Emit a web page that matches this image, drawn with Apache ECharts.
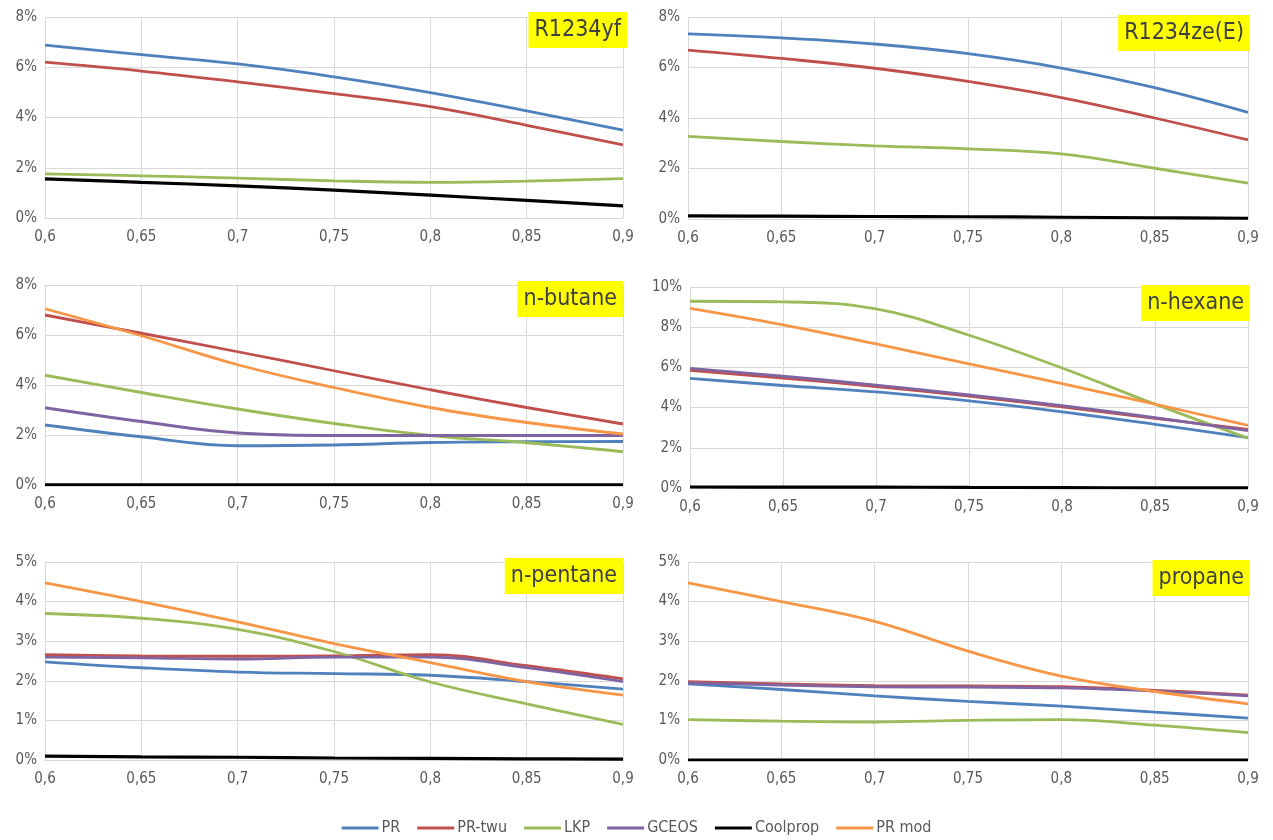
<!DOCTYPE html>
<html>
<head>
<meta charset="utf-8">
<title>Deviation vs reduced temperature</title>
<script src="https://cdn.jsdelivr.net/npm/echarts@6/dist/echarts.min.js"></script>
<style>
  html, body { margin: 0; padding: 0; background: #ffffff; }
  #chart { width: 1273px; height: 840px; }
</style>
</head>
<body>
<div id="chart"></div>
<script>
// Reduced temperature (x) shared by every panel
const xValues = [0.6, 0.65, 0.7, 0.75, 0.8, 0.85, 0.9];

// Model names, in legend order
const modelNames = ['PR', 'PR-twu', 'LKP', 'GCEOS', 'Coolprop', 'PR mod'];

// R1234yf deviations, %
const yfPR       = [6.88, 6.50, 6.13, 5.62, 4.99, 4.26, 3.50];
const yfPRtwu    = [6.20, 5.85, 5.42, 4.95, 4.43, 3.69, 2.91];
const yfLKP      = [1.76, 1.68, 1.59, 1.48, 1.42, 1.47, 1.57];
const yfCoolprop = [1.56, 1.42, 1.28, 1.11, 0.91, 0.70, 0.48];

// R1234ze(E) deviations, %
const zePR       = [7.33, 7.17, 6.93, 6.55, 5.98, 5.20, 4.22];
const zePRtwu    = [6.69, 6.36, 5.97, 5.45, 4.81, 4.00, 3.13];
const zeLKP      = [3.27, 3.07, 2.90, 2.78, 2.58, 2.01, 1.42];
const zeCoolprop = [0.12, 0.11, 0.10, 0.09, 0.07, 0.05, 0.03];

// n-butane deviations, %
const buPR       = [2.40, 1.93, 1.57, 1.60, 1.70, 1.73, 1.74];
const buPRtwu    = [6.80, 6.07, 5.33, 4.57, 3.81, 3.10, 2.44];
const buLKP      = [4.39, 3.70, 3.04, 2.46, 1.98, 1.69, 1.33];
const buGCEOS    = [3.09, 2.54, 2.08, 1.98, 1.98, 1.98, 1.98];
const buCoolprop = [0.01, 0.01, 0.01, 0.01, 0.01, 0.01, 0.01];
const buPRmod    = [7.05, 5.97, 4.81, 3.90, 3.10, 2.50, 2.04];

// n-hexane deviations, %
const hxPR       = [5.45, 5.10, 4.78, 4.33, 3.79, 3.17, 2.51];
const hxPRtwu    = [5.85, 5.47, 5.05, 4.57, 4.04, 3.47, 2.92];
const hxLKP      = [9.29, 9.26, 8.91, 7.60, 5.97, 4.17, 2.48];
const hxGCEOS    = [5.95, 5.56, 5.12, 4.63, 4.10, 3.50, 2.86];
const hxCoolprop = [0.05, 0.04, 0.04, 0.03, 0.02, 0.01, 0.01];
const hxPRmod    = [8.94, 8.12, 7.17, 6.18, 5.19, 4.17, 3.12];

// n-pentane deviations, %
const pePR       = [2.48, 2.33, 2.22, 2.18, 2.14, 1.98, 1.79];
const pePRtwu    = [2.66, 2.63, 2.62, 2.63, 2.66, 2.38, 2.05];
const peLKP      = [3.70, 3.58, 3.30, 2.74, 1.97, 1.42, 0.90];
const peGCEOS    = [2.60, 2.58, 2.55, 2.60, 2.60, 2.33, 1.98];
const peCoolprop = [0.10, 0.08, 0.07, 0.05, 0.04, 0.03, 0.02];
const pePRmod    = [4.47, 4.00, 3.49, 2.94, 2.46, 1.98, 1.64];

// propane deviations, %
const prPR       = [1.92, 1.78, 1.62, 1.48, 1.36, 1.21, 1.06];
const prPRtwu    = [1.98, 1.92, 1.88, 1.87, 1.85, 1.76, 1.64];
const prLKP      = [1.02, 0.98, 0.96, 1.00, 1.02, 0.88, 0.69];
const prGCEOS    = [1.95, 1.89, 1.85, 1.84, 1.82, 1.74, 1.62];
const prCoolprop = [0.00, 0.00, 0.00, 0.00, 0.00, 0.00, 0.00];
const prPRmod    = [4.47, 4.00, 3.50, 2.75, 2.12, 1.73, 1.42];

// Panel titles and y-axis ranges, %
const panelTitles = ['R1234yf', 'R1234ze(E)', 'n-butane', 'n-hexane', 'n-pentane', 'propane'];
const panelYMax   = [8, 8, 8, 10, 5, 5];
const panelYStep  = [2, 2, 2, 2, 1, 1];

// Series per panel, keyed by model name
const panelSeries = [
  { 'PR': yfPR, 'PR-twu': yfPRtwu, 'LKP': yfLKP, 'Coolprop': yfCoolprop },
  { 'PR': zePR, 'PR-twu': zePRtwu, 'LKP': zeLKP, 'Coolprop': zeCoolprop },
  { 'PR': buPR, 'PR-twu': buPRtwu, 'LKP': buLKP, 'GCEOS': buGCEOS, 'Coolprop': buCoolprop, 'PR mod': buPRmod },
  { 'PR': hxPR, 'PR-twu': hxPRtwu, 'LKP': hxLKP, 'GCEOS': hxGCEOS, 'Coolprop': hxCoolprop, 'PR mod': hxPRmod },
  { 'PR': pePR, 'PR-twu': pePRtwu, 'LKP': peLKP, 'GCEOS': peGCEOS, 'Coolprop': peCoolprop, 'PR mod': pePRmod },
  { 'PR': prPR, 'PR-twu': prPRtwu, 'LKP': prLKP, 'GCEOS': prGCEOS, 'Coolprop': prCoolprop, 'PR mod': prPRmod }
];

const modelColors = {
  'PR': '#4F81BD',
  'PR-twu': '#C0504D',
  'LKP': '#9BBB59',
  'GCEOS': '#8064A2',
  'Coolprop': '#000000',
  'PR mod': '#F79646'
};

// Plot areas, px
const grids = [
  { left: 45,  top: 17,  width: 578, height: 201 },
  { left: 688, top: 17,  width: 560, height: 202 },
  { left: 45,  top: 285, width: 578, height: 200 },
  { left: 690, top: 287, width: 558, height: 201 },
  { left: 45,  top: 562, width: 578, height: 198 },
  { left: 688, top: 562, width: 560, height: 198 }
];
const titleBoxes = [
  { right: 646, top: 12 },
  { right: 23,  top: 15 },
  { right: 650, top: 281 },
  { right: 23,  top: 285 },
  { right: 650, top: 558 },
  { right: 23,  top: 560 }
];

const labelFont = "'Liberation Sans Narrow', 'DejaVu Sans Condensed', 'Noto Sans', sans-serif";
const gridColor = '#D9D9D9';
const tickColor = '#595959';

const xAxes = [], yAxes = [], series = [], titles = [];

grids.forEach((g, i) => {
  xAxes.push({
    type: 'value', gridIndex: i, min: 0.6, max: 0.9, interval: 0.05,
    axisLine: { show: true, lineStyle: { color: gridColor, width: 1 } },
    axisTick: { show: false },
    splitLine: { show: true, lineStyle: { color: gridColor, width: 1 } },
    axisLabel: {
      color: tickColor, fontSize: 15, fontFamily: labelFont, margin: 12,
      formatter: v => String(+v.toFixed(2)).replace('.', ',')
    }
  });
  yAxes.push({
    type: 'value', gridIndex: i, min: 0, max: panelYMax[i], interval: panelYStep[i],
    axisLine: { show: false },
    axisTick: { show: false },
    splitLine: { show: true, lineStyle: { color: gridColor, width: 1 } },
    axisLabel: {
      color: tickColor, fontSize: 15, fontFamily: labelFont, margin: 8,
      formatter: v => v + '%'
    }
  });
  titles.push({
    text: panelTitles[i],
    right: titleBoxes[i].right, top: titleBoxes[i].top,
    backgroundColor: '#FFFF00',
    padding: [7, 6, 6, 6],
    textStyle: { color: '#404040', fontSize: 23, fontWeight: 'normal', fontFamily: labelFont }
  });
  modelNames.forEach(name => {
    const vals = panelSeries[i][name];
    if (!vals) return;
    series.push({
      name: name, type: 'line', xAxisIndex: i, yAxisIndex: i,
      data: xValues.map((x, k) => [x, vals[k]]),
      smooth: 0.4, symbol: 'none',
      lineStyle: { color: modelColors[name], width: name === 'Coolprop' ? 3.2 : 2.8 },
      itemStyle: { color: modelColors[name] },
      emphasis: { disabled: true }
    });
  });
});

const chart = echarts.init(document.getElementById('chart'), null, { renderer: 'canvas' });
chart.setOption({
  backgroundColor: '#ffffff',
  animation: false,
  title: titles,
  legend: {
    data: modelNames,
    left: 'center', top: 815,
    icon: 'rect', itemWidth: 37, itemHeight: 3, itemGap: 17,
    textStyle: { color: tickColor, fontSize: 16, fontFamily: labelFont, padding: [0, 0, 0, -2] }
  },
  grid: grids,
  xAxis: xAxes,
  yAxis: yAxes,
  series: series
});
</script>
</body>
</html>
